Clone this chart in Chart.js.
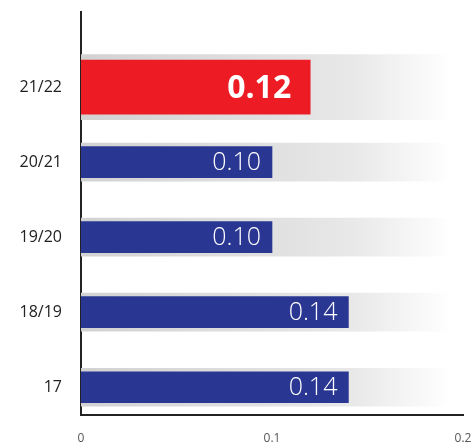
<!DOCTYPE html>
<html>
<head>
<meta charset="utf-8">
<script src="https://cdn.jsdelivr.net/npm/chart.js@4"></script>
<style>
  html, body { margin: 0; padding: 0; background: #fff; }
  #wrap { width: 476px; height: 445px; }
</style>
</head>
<body>
<div id="wrap"><canvas id="chartRatio" width="476" height="445"></canvas></div>
<script>
// datos
const categories = ["21/22", "20/21", "19/20", "18/19", "17"];
const values = [0.12, 0.10, 0.10, 0.14, 0.14];
const valueLabels = ["0.12", "0.10", "0.10", "0.14", "0.14"];
const trackValues = [0.2, 0.2, 0.2, 0.2, 0.2]; // franja gris de fondo
const xTicks = [0, 0.1, 0.2];
const highlight = 0; // la primera fila va en rojo

const RED = "#ed1c24";
const BLUE = "#293793";

// fila 0 arriba -> posicion mas alta en el eje
const rowPos = (i) => categories.length - 1 - i;

const redPts = [], bluePts = [], redTrack = [], blueTrack = [];
categories.forEach((c, i) => {
  const p = { x: values[i], y: rowPos(i), label: valueLabels[i] };
  const t = { x: trackValues[i], y: rowPos(i) };
  if (i === highlight) { redPts.push(p); redTrack.push(t); }
  else { bluePts.push(p); blueTrack.push(t); }
});

function trackFill(ctx) {
  const area = ctx.chart.chartArea;
  if (!area) return "#e4e4e4";
  const g = ctx.chart.ctx.createLinearGradient(area.left, 0, area.right, 0);
  g.addColorStop(0, "#d2d2d2");
  g.addColorStop(0.55, "#e2e2e3");
  g.addColorStop(0.72, "#e9e9e9");
  g.addColorStop(0.97, "rgba(255,255,255,1)");
  g.addColorStop(1, "rgba(255,255,255,1)");
  return g;
}

const valueLabelPlugin = {
  id: "valueLabels",
  afterDatasetsDraw(chart) {
    const ctx = chart.ctx;
    ctx.save();
    ctx.fillStyle = "#fff";
    ctx.textAlign = "right";
    ctx.textBaseline = "middle";
    [0, 1].forEach((di) => {
      const meta = chart.getDatasetMeta(di);
      const ds = chart.data.datasets[di];
      meta.data.forEach((bar, j) => {
        const big = di === 0;
        ctx.font = big ? "bold 32px 'Open Sans', sans-serif" : "300 25px 'Open Sans', sans-serif";
        ctx.fillText(ds.data[j].label, bar.x - (big ? 19 : 11), bar.y + (big ? 2 : 1));
      });
    });
    ctx.restore();
  },
};

const canvas = document.getElementById("chartRatio");
new Chart(canvas.getContext("2d"), {
  type: "bar",
  data: {
    datasets: [
      { data: redPts, backgroundColor: RED, barThickness: 54, order: 1 },
      { data: bluePts, backgroundColor: BLUE, barThickness: 31, order: 1 },
      { data: redTrack, backgroundColor: trackFill, barThickness: 65, order: 2 },
      { data: blueTrack, backgroundColor: trackFill, barThickness: 38, order: 2 },
    ],
  },
  options: {
    indexAxis: "y",
    responsive: false,
    animation: false,
    grouped: false,
    layout: { padding: { top: 12, right: 13, left: 0, bottom: 0 } },
    scales: {
      x: {
        type: "linear",
        min: 0,
        max: 0.2,
        afterBuildTicks: (s) => { s.ticks = xTicks.map((v) => ({ value: v })); },
        afterFit: (s) => { s.height = 30; s.paddingLeft = 0; s.paddingRight = 0; },
        grid: { display: false, drawTicks: false },
        border: { display: true, color: "#222", width: 2 },
        ticks: { color: "#555", font: { family: "'Open Sans', sans-serif", size: 12 }, padding: 16 },
      },
      y: {
        type: "linear",
        offset: false,
        min: -0.37,
        max: 5,
        afterBuildTicks: (s) => { s.ticks = categories.map((c, i) => ({ value: rowPos(i) })); },
        afterFit: (s) => { s.width = 81; s.paddingTop = 0; s.paddingBottom = 0; },
        grid: { display: false, drawTicks: false, offset: false },
        border: { display: true, color: "#222", width: 2 },
        ticks: {
          color: "#222",
          padding: 19,
          font: { family: "'Open Sans', sans-serif", size: 16 },
          callback: (v) => categories[categories.length - 1 - v],
        },
      },
    },
    plugins: {
      legend: { display: false },
      tooltip: { enabled: false },
    },
  },
  plugins: [valueLabelPlugin],
});
</script>
</body>
</html>
